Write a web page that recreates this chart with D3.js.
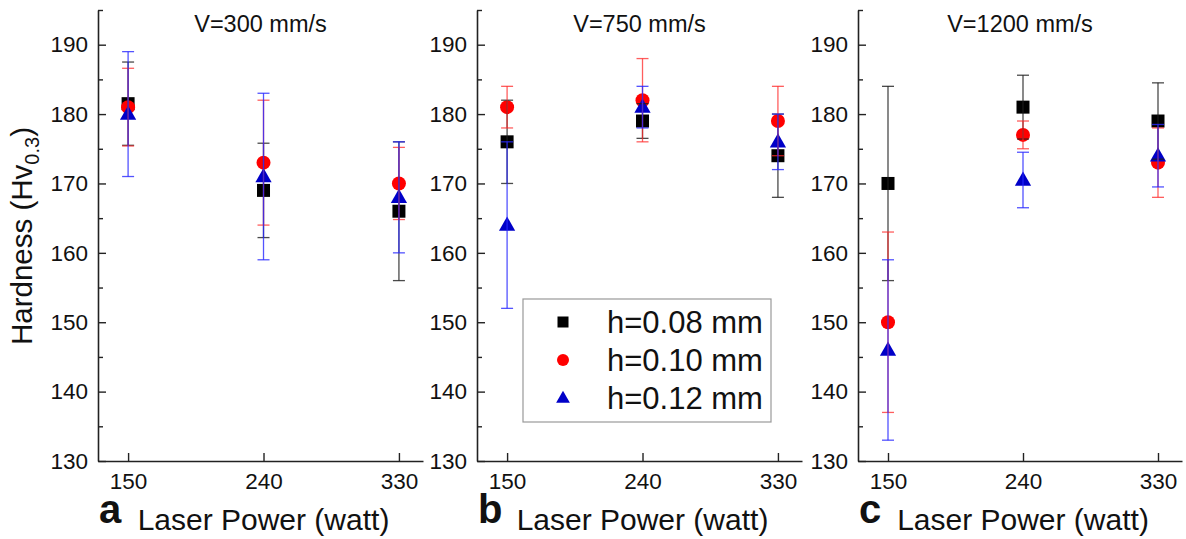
<!DOCTYPE html>
<html>
<head>
<meta charset="utf-8">
<script src="https://cdn.jsdelivr.net/npm/d3@7"></script>
<style>
  body { margin: 0; background: #fff; }
  text { font-family: "Liberation Sans", Arial, sans-serif; fill: #111; }
</style>
</head>
<body>
<div id="chart"></div>
<script>
// data: hardness (Hv0.3) for each panel (speed) x laser power
const powers = [150, 240, 330];
const panelTitles = ["V=300 mm/s", "V=750 mm/s", "V=1200 mm/s"];
const panelLetters = ["a", "b", "c"];
const seriesNames = ["h=0.08 mm", "h=0.10 mm", "h=0.12 mm"];

const h008 = [[181.5, 169, 166], [176, 179, 174], [170, 181, 179]];
const h008Err = [[6, 6.8, 10], [6, 2.5, 6], [14, 4.6, 5.5]];
const h010 = [[181, 173, 170], [181, 182, 179], [150, 177, 173]];
const h010Err = [[5.6, 9, 5.2], [3, 6, 5], [13, 2, 5]];
const h012 = [[180, 171, 168], [164, 181, 176], [146, 170.5, 174]];
const h012Err = [[9, 12, 8], [12, 3, 4], [13, 4, 4.5]];

const yMajor = [130, 140, 150, 160, 170, 180, 190];
const yMinor = [135, 145, 155, 165, 175, 185, 195];

const W = 1186, H = 539;
const svg = d3.select("#chart").append("svg")
    .attr("width", W)
    .attr("height", H);

// panel x ranges (left axis -> end of bottom axis)
const panelRanges = [[98, 423], [477, 802], [858, 1182]];
const y = d3.scaleLinear().domain([130, 195]).range([461, 10]);

const series = [
    { vals: h008, err: h008Err, fill: "#000", bar: "rgba(30,30,30,0.8)", shape: "square" },
    { vals: h010, err: h010Err, fill: "#ff0000", bar: "rgba(255,40,40,0.75)", shape: "circle" },
    { vals: h012, err: h012Err, fill: "#0000c8", bar: "rgba(40,40,255,0.8)", shape: "triangle" }
];

function drawMarker(g, shape, cx, cy, s, fill) {
    if (shape === "square") {
        g.append("rect").attr("x", cx - s / 2).attr("y", cy - s / 2)
            .attr("width", s).attr("height", s).attr("fill", fill);
    } else if (shape === "circle") {
        g.append("circle").attr("cx", cx).attr("cy", cy).attr("r", s / 2 + 0.5).attr("fill", fill);
    } else {
        const w = s * 1.25, h = s * 1.1;
        g.append("path")
            .attr("d", `M${cx},${cy - h * 0.6}L${cx + w / 2},${cy + h * 0.4}L${cx - w / 2},${cy + h * 0.4}Z`)
            .attr("fill", fill);
    }
}

panelTitles.forEach((title, p) => {
    const x = d3.scaleLinear().domain([130, 346]).range(panelRanges[p]);
    const g = svg.append("g");
    const x0 = panelRanges[p][0];

    // y axis (ticks inside)
    g.append("g")
        .attr("transform", `translate(${x0},0)`)
        .call(d3.axisLeft(y).tickValues(yMajor).tickSize(-8).tickSizeOuter(0).tickPadding(10))
        .attr("font-size", 22.5);
    g.append("g")
        .attr("transform", `translate(${x0},0)`)
        .call(d3.axisLeft(y).tickValues(yMinor).tickSize(-5).tickSizeOuter(0).tickFormat(""))
        .call(a => a.select(".domain").remove());

    // x axis
    g.append("g")
        .attr("transform", `translate(0,${y(130)})`)
        .call(d3.axisBottom(x).tickValues(powers).tickSize(-8).tickSizeOuter(0).tickPadding(12))
        .attr("font-size", 22.5);

    g.selectAll(".domain").attr("stroke", "#222").attr("stroke-width", 1.6);
    g.selectAll(".tick line").attr("stroke", "#222").attr("stroke-width", 1.4);
    g.selectAll(".tick text").attr("fill", "#111");

    // title
    const xc = (panelRanges[p][0] + panelRanges[p][1]) / 2;
    g.append("text").attr("x", xc).attr("y", 32)
        .attr("text-anchor", "middle").attr("font-size", 23.5).text(title);

    // x label and panel letter
    g.append("text").attr("x", xc + 3).attr("y", 530)
        .attr("text-anchor", "middle").attr("font-size", 30).text("Laser Power (watt)");
    g.append("text").attr("x", x0 + 1).attr("y", 523)
        .attr("font-size", 40).attr("font-weight", "bold").text(panelLetters[p]);

    // markers
    series.forEach(s => {
        powers.forEach((pw, i) => {
            drawMarker(g, s.shape, x(pw), y(s.vals[p][i]), 13, s.fill);
        });
    });

    // error bars on top
    series.forEach(s => {
        powers.forEach((pw, i) => {
            const cx = x(pw), v = s.vals[p][i], e = s.err[p][i];
            const eb = g.append("g").attr("stroke", s.bar).attr("stroke-width", 1.3);
            eb.append("line").attr("x1", cx).attr("x2", cx).attr("y1", y(v - e)).attr("y2", y(v + e));
            [v - e, v + e].forEach(t => {
                eb.append("line").attr("x1", cx - 6).attr("x2", cx + 6).attr("y1", y(t)).attr("y2", y(t));
            });
        });
    });
});

// y axis label
svg.append("text")
    .attr("transform", "translate(32,236) rotate(-90)")
    .attr("text-anchor", "middle")
    .attr("font-size", 29.5)
    .call(t => {
        t.append("tspan").text("Hardness (Hv");
        t.append("tspan").attr("font-size", 20).attr("dy", 7).text("0.3");
        t.append("tspan").attr("dy", -7).text(")");
    });

// legend (in panel b)
const legend = svg.append("g");
legend.append("rect")
    .attr("x", 523).attr("y", 299).attr("width", 248).attr("height", 123)
    .attr("fill", "#fff").attr("stroke", "#999").attr("stroke-width", 1.2);
const legendRows = [322, 360, 398];
seriesNames.forEach((name, i) => {
    drawMarker(legend, series[i].shape, 563, legendRows[i], 11, series[i].fill);
    legend.append("text").attr("x", 607).attr("y", legendRows[i])
        .attr("dy", "0.36em").attr("font-size", 31).text(name);
});
</script>
</body>
</html>
